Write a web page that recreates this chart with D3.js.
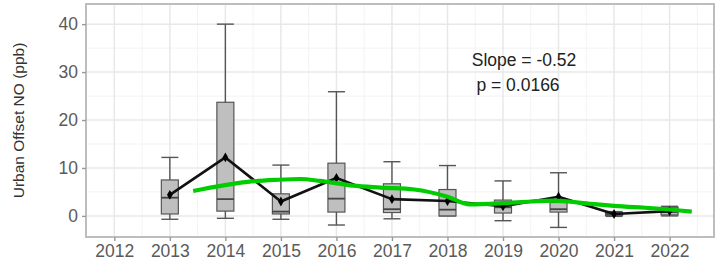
<!DOCTYPE html>
<html>
<head>
<meta charset="utf-8">
<script src="https://cdn.jsdelivr.net/npm/d3@7"></script>
<style>
  body { margin: 0; background: #fff; }
  svg { display: block; font-family: "Liberation Sans", Arial, sans-serif; }
</style>
</head>
<body>
<svg id="chart" width="715" height="266"></svg>
<script>
// Yearly box statistics (ppb)
const years     = [2013, 2014, 2015, 2016, 2017, 2018, 2019, 2020, 2021, 2022];
const whiskerLo = [-0.7, -0.5, -0.7, -1.9, -0.6,  0.0, -1.0, -2.4, -0.1,  0.0];
const boxLo     = [ 0.4,  1.0,  0.4,  0.8,  0.7,  0.0,  0.6,  0.8,  0.1,  0.2];
const medians   = [ 3.8,  3.5,  0.9,  3.6,  1.4,  1.3,  1.8,  1.4,  0.4,  0.8];
const boxHi     = [ 7.5, 23.7,  4.6, 11.0,  6.7,  5.5,  3.3,  2.8,  0.7,  1.8];
const whiskerHi = [12.2, 40.0, 10.6, 25.9, 11.3, 10.5,  7.3,  9.0,  0.9,  2.0];
const means     = [ 4.4, 12.2,  3.0,  7.9,  3.5,  3.1,  2.0,  4.0,  0.4,  1.0];

// Green smoothed trend
const trendX = [2013.42, 2014.4, 2014.9, 2015.35, 2015.7, 2016.3, 2016.8, 2017.4, 2018.0, 2018.4, 2019.0, 2019.5, 2019.9, 2020.6, 2021.0, 2021.7, 2022.4];
const trendY = [5.2, 7.1, 7.5, 7.7, 7.3, 6.3, 5.9, 5.5, 4.0, 2.4, 2.65, 3.0, 3.2, 2.5, 2.1, 1.6, 0.9];

const yTicks = [0, 10, 20, 30, 40];
const xTicks = d3.range(2012, 2023);

const svg = d3.select("#chart");
const pLeft = 86, pRight = 714, pTop = 4, pBottom = 237;

const x = d3.scaleLinear().domain([2011.49, 2022.8]).range([pLeft, pRight]);
const y = d3.scaleLinear().domain([-4.4, 44.2]).range([pBottom, pTop]);

// grid: minor then major
const g = svg.append("g");
g.selectAll(".minx").data(xTicks.map(d => d + 0.5).filter(d => d < 2022.8))
  .enter().append("line")
  .attr("x1", d => x(d)).attr("x2", d => x(d)).attr("y1", pTop).attr("y2", pBottom)
  .style("stroke", "#f3f3f3").style("stroke-width", 1);
g.selectAll(".miny").data([5, 15, 25, 35])
  .enter().append("line")
  .attr("x1", pLeft).attr("x2", pRight).attr("y1", d => y(d)).attr("y2", d => y(d))
  .style("stroke", "#f3f3f3").style("stroke-width", 1);
g.selectAll(".majx").data(xTicks)
  .enter().append("line")
  .attr("x1", d => x(d)).attr("x2", d => x(d)).attr("y1", pTop).attr("y2", pBottom)
  .style("stroke", "#e8e8e8").style("stroke-width", 1.5);
g.selectAll(".majy").data(yTicks)
  .enter().append("line")
  .attr("x1", pLeft).attr("x2", pRight).attr("y1", d => y(d)).attr("y2", d => y(d))
  .style("stroke", "#e8e8e8").style("stroke-width", 1.5);

// boxes
const bw = 17;
const boxes = svg.append("g").selectAll("g").data(years).enter().append("g");
boxes.append("line")
  .attr("x1", d => x(d)).attr("x2", d => x(d))
  .attr("y1", (d, i) => y(whiskerLo[i])).attr("y2", (d, i) => y(whiskerHi[i]))
  .style("stroke", "#555").style("stroke-width", 1.4);
boxes.append("line")
  .attr("x1", d => x(d) - bw / 2).attr("x2", d => x(d) + bw / 2)
  .attr("y1", (d, i) => y(whiskerHi[i])).attr("y2", (d, i) => y(whiskerHi[i]))
  .style("stroke", "#555").style("stroke-width", 1.4);
boxes.append("line")
  .attr("x1", d => x(d) - bw / 2).attr("x2", d => x(d) + bw / 2)
  .attr("y1", (d, i) => y(whiskerLo[i])).attr("y2", (d, i) => y(whiskerLo[i]))
  .style("stroke", "#555").style("stroke-width", 1.4);
boxes.append("rect")
  .attr("x", d => x(d) - bw / 2).attr("width", bw)
  .attr("y", (d, i) => y(boxHi[i])).attr("height", (d, i) => y(boxLo[i]) - y(boxHi[i]))
  .style("fill", "#bfbfbf").style("stroke", "#555").style("stroke-width", 1.2);
boxes.append("line")
  .attr("x1", d => x(d) - bw / 2).attr("x2", d => x(d) + bw / 2)
  .attr("y1", (d, i) => y(medians[i])).attr("y2", (d, i) => y(medians[i]))
  .style("stroke", "#444").style("stroke-width", 1.8);

// mean line
const meanLine = d3.line().x((d, i) => x(years[i])).y(d => y(d));
svg.append("path").datum(means)
  .attr("d", meanLine)
  .style("fill", "none").style("stroke", "#111").style("stroke-width", 2.6)
  .style("stroke-linejoin", "round");
svg.append("g").selectAll("path").data(means).enter().append("path")
  .attr("d", d3.symbol(d3.symbolDiamond, 28))
  .attr("transform", (d, i) => `translate(${x(years[i])},${y(d)})`)
  .style("fill", "#000");

// green trend
const trendLine = d3.line().x(d => x(d[0])).y(d => y(d[1])).curve(d3.curveMonotoneX);
svg.append("path").datum(trendX.map((d, i) => [d, trendY[i]]))
  .attr("d", trendLine)
  .style("fill", "none").style("stroke", "#00cc00").style("stroke-width", 4.2)
  .style("stroke-linecap", "butt").style("stroke-linejoin", "round");

// panel border
svg.append("rect")
  .attr("x", pLeft).attr("y", pTop).attr("width", pRight - pLeft).attr("height", pBottom - pTop)
  .style("fill", "none").style("stroke", "#bdbdbd").style("stroke-width", 2);

// axes
const xAxis = svg.append("g").attr("transform", `translate(0,${pBottom})`)
  .call(d3.axisBottom(x).tickValues(xTicks).tickFormat(d3.format("d")).tickSize(4).tickPadding(4));
const yAxis = svg.append("g").attr("transform", `translate(${pLeft},0)`)
  .call(d3.axisLeft(y).tickValues(yTicks).tickSize(4).tickPadding(4));
[xAxis, yAxis].forEach(a => {
  a.select(".domain").remove();
  a.selectAll(".tick line").style("stroke", "#999").style("stroke-width", 1.4);
  a.selectAll(".tick text").style("fill", "#5a5a5a").style("font-size", "17.5px")
    .style("font-family", "'Liberation Sans', Arial, sans-serif");
});

// y title
svg.append("text")
  .attr("transform", `translate(24,${(pTop + pBottom) / 2}) rotate(-90)`)
  .attr("text-anchor", "middle")
  .style("font-size", "15.5px").style("fill", "#333")
  .text("Urban Offset NO (ppb)");

// annotation
svg.append("text").attr("x", 524).attr("y", 66).attr("text-anchor", "middle")
  .style("font-size", "17.5px").style("fill", "#222").text("Slope = -0.52");
svg.append("text").attr("x", 518).attr("y", 91).attr("text-anchor", "middle")
  .style("font-size", "17.5px").style("fill", "#222").text("p = 0.0166");
</script>
</body>
</html>
